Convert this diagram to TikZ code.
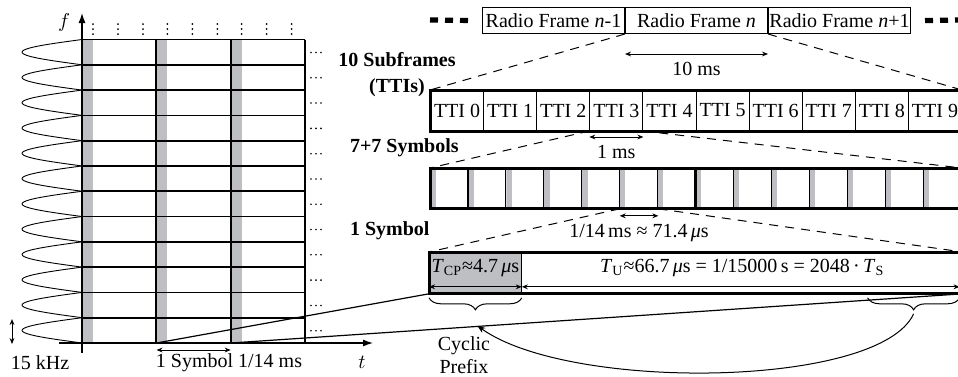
\documentclass[tikz,border=0pt]{standalone}
\usepackage{fontspec}
\setmainfont{Liberation Serif}
\usetikzlibrary{positioning,arrows.meta,decorations.pathreplacing,calc}
\definecolor{cpgray}{RGB}{190,191,195}

\begin{document}
\begin{tikzpicture}[
        x=0.5pt, y=-0.5pt,
        font=\fontsize{10}{11.5}\selectfont,
        node distance = 0pt,
        grid/.style  = {line width=0.85pt},
        lobe/.style  = {line width=0.45pt},
        axis/.style  = {-{Latex[length=5pt,width=3.5pt]}, line width=0.6pt},
        frame/.style = {rectangle, draw, line width=0.5pt, inner sep=0pt,
                        minimum width=71pt, minimum height=13pt},
        tti/.style   = {rectangle, draw, line width=0.5pt, inner sep=0pt,
                        minimum width=26.55pt, minimum height=20pt},
        sym/.style   = {rectangle, inner sep=0pt,
                        minimum width=18.964pt, minimum height=20pt,
                        path picture={\fill[cpgray] (path picture bounding box.north west)
                            rectangle ([xshift=2.7pt]path picture bounding box.south west);}},
        rowline/.style  = {line width=1.5pt},
        zoomline/.style = {dash pattern=on 4.5pt off 3.5pt, line width=0.5pt},
        dim/.style   = {{Stealth[length=3pt,width=2.4pt]}-{Stealth[length=3pt,width=2.4pt]}, line width=0.5pt},
        bigdash/.style = {line width=2.6pt, dash pattern=on 4pt off 3.5pt},
        brace/.style = {decorate, decoration={brace, amplitude=6pt}, line width=0.5pt},
        curvearr/.style = {-{Stealth[length=4pt,width=3pt]}, line width=0.5pt},
        lbl/.style   = {font=\fontsize{10}{11.5}\selectfont\bfseries, align=center}
    ]
    \useasboundingbox (0,0) rectangle (958,376);
    \clip (0,0) rectangle (958,376);

    % time-frequency grid
    \foreach \col in {0,1,2}
        \fill[cpgray] ({82+74.33*\col},39.5) rectangle ({93+74.33*\col},343);
    \foreach \row in {0,...,12}
        \draw[grid] (82,{39.5+25.29*\row}) -- (305,{39.5+25.29*\row});
    \foreach \col in {1,2,3}
        \draw[grid] ({82+74.33*\col},39.5) -- ({82+74.33*\col},343);
    \foreach \row in {0,...,11}
        \draw[lobe] plot[domain=0:1, samples=25, smooth, variable=\uu]
            ({82-60*sin(180*\uu)}, {39.5+25.29*(\row+\uu)});
    \foreach \col in {0,1,2}
        \foreach \kk in {0,1,2}
            \foreach \dy in {24,29,34}
                \fill ({93+74.33*\col+25*\kk},\dy) circle[radius=0.5pt];
    \foreach \row in {0,...,11}
        \foreach \dx in {311,316,321}
            \fill (\dx,{52.5+25.29*\row}) circle[radius=0.45pt];

    \coordinate (forig) at (82,353);
    \coordinate (ftop)  at (82,13);
    \coordinate (tstart) at (59,343);
    \coordinate (tend)   at (373,343);
    \draw[axis] (forig) -- (ftop);
    \draw[axis] (tstart) -- (tend);
    \node (flab) at (64,22) {$f$};
    \node (tlab) at (362,362) {$t$};

    \coordinate (dfa) at (12,319);
    \coordinate (dfb) at (12,344);
    \draw[dim] (dfa) -- (dfb);
    \node (dflab) at (40,363) {15 kHz};

    \coordinate (g1) at (156.5,343);
    \coordinate (g2) at (230.7,343);
    \coordinate (sya) at (156.5,350);
    \coordinate (syb) at (230.7,350);
    \draw[dim] (sya) -- (syb);
    \node (sylab) at (229,363) {1 Symbol 1/14 ms};

    % radio frames
    \node[frame, anchor=north west] (rfm) at (482,7) {Radio Frame \textit{n}-1};
    \node[frame, right=of rfm] (rfn) {Radio Frame \textit{n}};
    \node[frame, right=of rfn] (rfp) {Radio Frame \textit{n}+1};
    \coordinate (dl) at (430,20);
    \coordinate (dr) at (962,20);
    \draw[bigdash] (dl) -- ([xshift=-5pt]rfm.west);
    \draw[bigdash] ([xshift=7pt]rfp.east) -- (dr);
    \draw[dim] ([yshift=-10pt]rfn.south west) -- node[below=0.5pt] (tenms) {10 ms} ([yshift=-10pt]rfn.south east);

    % subframes
    \node[lbl] (sublab) at (397,75) {10 Subframes\\[1.5pt](TTIs)};
    \foreach \i in {0,...,9}
        \node[tti, anchor=north west] (t\i) at ({430+53.1*\i},90) {TTI \i};
    \draw[rowline] (t0.north west) rectangle (t9.south east);
    \draw[dim] ([yshift=-3pt]t3.south west) -- node[below=0.5pt] (onems) {1 ms} ([yshift=-3pt]t3.south east);

    % symbols
    \node[lbl, anchor=west] (symlab) at (343,148) {7+7 Symbols};
    \foreach \i in {0,...,13}
        \node[sym, anchor=north west] (s\i) at ({430+37.93*\i},168) {};
    \foreach \i in {1,...,13}
        \draw[line width=0.6pt] (s\i.north west) -- (s\i.south west);
    \draw[rowline] (s0.north west) rectangle (s13.south east);
    \draw[line width=1.2pt] (s7.north west) -- (s7.south west);
    \draw[dim] ([yshift=-3.5pt]s5.south west) -- node[below=0.5pt] (symdur) {1/14\,ms ≈ 71.4\,\textit{μ}s} ([yshift=-3.5pt]s5.south east);

    % one symbol
    \node[lbl, anchor=west] (onesym) at (343,231) {1 Symbol};
    \node[rectangle, fill=cpgray, inner sep=0pt, minimum width=46pt, minimum height=20.5pt, anchor=north west] (cp) at (429,252) {};
    \node[rectangle, inner sep=0pt, minimum width=220pt, minimum height=20.5pt, anchor=north west] (tu) at (cp.north east) {};
    \draw[line width=0.6pt] (cp.north east) -- (cp.south east);
    \draw[rowline] (cp.north west) rectangle (tu.south east);
    \node (cptxt) at ([yshift=2.5pt]cp.center) {\textit{T}\textsubscript{CP}≈4.7\,\textit{μ}s};
    \node (tutxt) at ([yshift=2.5pt]tu.center) {\textit{T}\textsubscript{U}≈66.7\,\textit{μ}s = 1/15000\,s = 2048\,·\,\textit{T}\textsubscript{S}};
    \draw[dim] ([yshift=3.5pt]cp.south west) -- ([yshift=3.5pt]cp.south east);
    \draw[dim] ([yshift=3.5pt]tu.south west) -- ([yshift=3.5pt,xshift=-1.5pt]tu.south east);

    \draw[zoomline] (rfn.south west) -- (t0.north west);
    \draw[zoomline] (rfn.south east) -- (t9.north east);
    \draw[zoomline] (t3.south west) -- (s0.north west);
    \draw[zoomline] (t3.south east) -- (s13.north east);
    \draw[zoomline] (s5.south west) -- (cp.north west);
    \draw[zoomline] (s5.south east) -- (tu.north east);

    \draw[line width=0.6pt] (g1) -- (cp.south west);
    \draw[line width=0.6pt] (g2) -- (tu.south east);

    % cyclic prefix
    \draw[brace] ([yshift=-2pt]cp.south east) -- ([yshift=-2pt]cp.south west);
    \coordinate (rbR) at ([xshift=-1.5pt,yshift=-2pt]tu.south east);
    \coordinate (rbL) at ([xshift=-47.5pt,yshift=-2pt]tu.south east);
    \draw[brace] (rbR) -- (rbL);
    \coordinate (rbtip) at ([xshift=-24.5pt,yshift=-10pt]tu.south east);
    \coordinate (cparr) at ([xshift=1pt,yshift=-16pt]cp.south);
    \draw[curvearr] (rbtip) .. controls (880,388) and (570,392) .. (cparr);
    \node[align=center] (cplab) at (464,355) {Cyclic\\Prefix};
\end{tikzpicture}
\end{document}
